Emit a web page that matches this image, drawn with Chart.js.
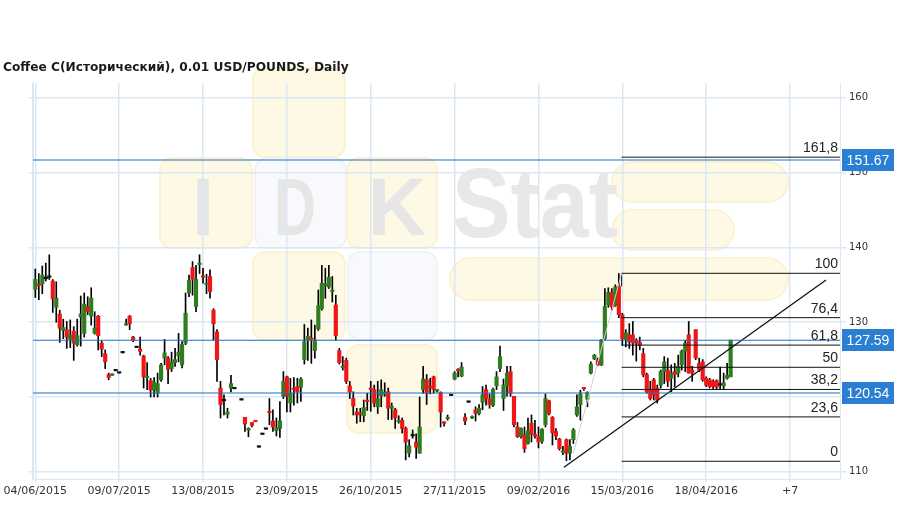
<!DOCTYPE html>
<html>
<head>
<meta charset="utf-8">
<script src="https://cdn.jsdelivr.net/npm/chart.js@4.4.1/dist/chart.umd.min.js"></script>
<style>
  html, body { margin: 0; padding: 0; background: #fff; }
</style>
</head>
<body>
<canvas id="chart" width="909" height="509"></canvas>
<script>
// daily OHLC, one entry per bar position (null = no trading data)
const opens = [
  134.4, 135.1, 135.1, 135.8, 136.0, 135.5, 132.0, 131.1, 128.9, 129.0,
  127.7, 128.8, 127.0, 130.7, 128.5, 132.1, 130.8, 128.5, 130.8, 127.2,
  125.8, 123.0, 122.9, 123.5, 123.2, 125.9, 129.6, 130.8, 128.0, 126.6,
  126.4, 125.5, 122.6, 122.2, 120.9, 120.5, 122.3, 125.2, 125.2, 123.8,
  124.6, 125.5, 124.3, 127.2, 133.9, 137.3, 132.1, 137.7, 136.1, 135.0,
  136.1, 131.6, 128.7, 121.2, 119.5, 117.7, 121.2, 121.1, null, 119.6,
  117.3, 115.6, 116.6, 116.8, 113.3, 115.0, 115.7, 118.0, 116.8, 115.5,
  115.8, 120.1, 122.7, 119.2, 121.1, 121.4, 121.3, 125.0, 127.6, 127.8,
  126.2, 129.1, 131.8, 134.9, 134.7, 134.1, 132.3, 126.2, 123.9, 124.9,
  121.5, 119.8, 118.0, 117.8, 117.5, 119.5, 121.1, 121.0, 118.7, 120.1,
  120.4, 120.7, 118.5, 118.3, 116.7, 116.9, 115.8, 112.5, 114.8, 114.0,
  112.5, 121.0, 122.3, 121.3, 122.7, 120.8, 120.6, 116.6, 117.1, 120.2,
  122.4, 123.6, 122.8, 117.3, 119.3, 117.2, 118.3, 117.8, 119.3, 121.0,
  119.7, 118.9, 121.5, 123.8, 119.8, 121.5, 123.4, 120.1, 116.0, 114.7,
  115.0, 113.8, 116.5, 114.9, 114.7, 114.1, 116.3, 119.5, 117.3, 115.4,
  114.4, 112.6, 114.3, 112.5, 114.3, 117.6, 119.0, 121.2, 119.7, 123.2,
  125.1, 125.0, 124.3, 127.8, 132.3, 134.0, 132.2, 134.8, 131.0, 127.7,
  128.3, 128.3, 127.6, 127.3, 125.8, 123.0, 120.9, 122.3, 121.2, 121.6,
  123.4, 123.6, 122.5, 123.4, 123.2, 124.3, 126.1, 128.3, 123.6, 129.0,
  124.5, 124.7, 122.5, 122.3, 122.1, 122.2, 121.6, 121.5, 122.5, 122.7
];
const highs = [
  137.1, 136.5, 137.5, 137.9, 139.0, 135.7, 135.4, 131.6, 130.4, 130.1,
  130.3, 129.4, 130.4, 133.5, 133.9, 133.4, 134.6, 131.4, 130.9, 127.5,
  126.3, 123.2, 123.1, 123.5, 123.2, 125.9, 130.4, 130.9, 128.1, 126.6,
  128.0, 125.6, 124.6, 122.5, 122.6, 123.2, 124.5, 127.7, 125.4, 126.0,
  126.5, 128.5, 127.4, 133.9, 136.3, 138.1, 137.6, 139.0, 137.2, 136.4,
  137.0, 131.8, 129.0, 122.1, 120.3, 118.5, 122.9, 121.1, null, 119.6,
  117.3, 115.9, 116.6, 116.8, 113.3, 115.0, 115.7, 119.8, 118.3, 117.2,
  119.4, 123.4, 122.8, 122.5, 122.6, 122.5, 122.6, 129.7, 129.2, 130.3,
  129.6, 134.3, 137.6, 137.2, 137.6, 136.1, 133.6, 126.5, 125.4, 125.2,
  122.1, 120.7, 118.5, 118.5, 119.6, 120.5, 122.1, 121.6, 122.1, 122.3,
  121.9, 121.2, 119.2, 118.5, 117.5, 117.2, 116.0, 114.3, 115.6, 115.1,
  120.0, 124.1, 123.0, 122.5, 122.8, 121.0, 120.7, 116.7, 117.6, 120.2,
  123.4, 123.8, 124.6, 117.8, 119.3, 117.5, 118.7, 119.0, 121.4, 121.6,
  120.4, 121.2, 123.4, 126.8, 122.4, 124.1, 124.1, 120.1, 116.6, 115.9,
  116.0, 117.2, 117.6, 116.9, 116.0, 115.8, 120.4, 119.6, 117.4, 115.8,
  114.5, 113.4, 114.4, 114.3, 115.8, 120.3, 120.9, 121.3, 120.7, 124.7,
  125.7, 125.2, 127.7, 134.5, 134.6, 134.5, 135.0, 136.5, 131.2, 129.0,
  129.8, 130.1, 127.8, 128.0, 126.5, 123.2, 122.1, 122.5, 121.6, 123.6,
  125.4, 125.2, 124.3, 124.5, 125.6, 126.3, 127.6, 130.1, 124.1, 129.0,
  125.2, 125.0, 122.7, 122.5, 122.3, 122.3, 124.0, 123.2, 124.5, 127.6
];
const lows = [
  133.3, 133.0, 133.8, 135.5, 135.7, 131.3, 130.0, 127.3, 127.8, 126.5,
  126.6, 124.9, 126.8, 126.8, 128.0, 131.0, 129.6, 128.4, 126.3, 125.4,
  123.8, 122.3, 122.9, 123.5, 123.2, 125.9, 129.6, 129.0, 127.4, 126.6,
  125.6, 121.2, 121.0, 120.0, 120.0, 120.0, 122.1, 124.3, 121.8, 123.4,
  124.1, 124.7, 123.9, 127.0, 133.4, 133.6, 131.4, 136.5, 135.2, 133.8,
  133.2, 127.6, 122.1, 117.2, 117.6, 117.2, 120.7, 121.1, null, 119.6,
  115.4, 114.7, 116.0, 116.7, 113.3, 115.0, 115.7, 116.3, 115.4, 114.8,
  114.6, 119.8, 118.0, 118.0, 118.9, 119.2, 119.4, 124.4, 124.9, 124.5,
  125.2, 128.9, 131.6, 133.2, 134.5, 132.7, 127.6, 124.4, 123.6, 121.8,
  119.8, 117.6, 116.5, 116.7, 116.7, 118.2, 118.1, 118.7, 117.8, 118.7,
  120.1, 117.0, 117.0, 115.8, 116.5, 115.2, 111.6, 112.0, 114.5, 111.8,
  112.5, 120.5, 119.0, 120.4, 120.5, 120.7, 116.0, 116.1, 116.9, 120.2,
  122.3, 122.7, 122.7, 116.3, 119.3, 117.1, 116.8, 117.6, 118.3, 118.9,
  118.5, 118.7, 121.0, 123.4, 118.2, 120.1, 120.1, 116.0, 114.6, 114.5,
  112.6, 113.7, 114.0, 114.5, 113.2, 113.8, 116.0, 117.6, 113.6, 114.3,
  112.9, 112.3, 111.5, 111.6, 113.8, 117.4, 116.9, 120.9, 118.7, 123.1,
  125.0, 124.2, 124.2, 127.6, 132.0, 131.6, 132.1, 130.6, 126.9, 126.7,
  126.5, 125.6, 124.8, 126.3, 122.7, 120.5, 119.6, 119.6, 119.2, 121.2,
  121.8, 121.4, 120.7, 121.4, 122.7, 123.6, 123.4, 123.2, 122.1, 125.0,
  123.4, 122.1, 121.4, 121.2, 121.0, 121.0, 121.0, 121.0, 122.4, 122.7
];
const closes = [
  135.7, 134.9, 136.3, 135.8, 136.0, 133.1, 133.2, 129.2, 129.3, 128.0,
  128.3, 127.2, 128.2, 131.1, 132.4, 131.4, 133.2, 129.2, 128.2, 126.4,
  124.7, 122.6, 123.1, 123.5, 123.2, 125.9, 129.8, 129.8, 127.6, 126.6,
  126.1, 122.7, 122.7, 120.9, 122.0, 121.8, 124.3, 125.9, 123.7, 124.7,
  125.0, 126.0, 127.0, 131.2, 135.6, 135.7, 135.7, 137.8, 136.0, 135.1,
  134.1, 129.8, 125.0, 119.0, 119.5, 118.0, 121.8, 121.1, null, 119.6,
  116.4, 115.8, 116.2, 116.7, 113.3, 115.0, 115.7, 117.9, 116.0, 115.9,
  116.8, 122.1, 120.1, 120.5, 121.0, 120.7, 122.4, 127.4, 128.1, 127.7,
  127.6, 132.2, 135.2, 135.0, 136.0, 134.2, 128.2, 124.6, 124.0, 122.1,
  120.7, 118.8, 117.6, 117.7, 118.6, 119.4, 121.0, 119.2, 119.8, 121.0,
  120.5, 118.5, 118.8, 117.2, 116.8, 115.8, 114.0, 113.5, 114.8, 113.3,
  116.0, 122.4, 120.5, 121.2, 121.0, 120.9, 118.0, 116.5, 117.2, 120.2,
  123.2, 123.5, 124.0, 116.8, 119.3, 117.3, 117.8, 118.5, 120.3, 119.8,
  119.0, 121.0, 122.7, 125.4, 121.6, 123.2, 120.5, 116.3, 114.7, 115.8,
  113.1, 115.5, 115.0, 114.8, 114.0, 115.7, 119.8, 117.8, 115.2, 114.8,
  113.1, 112.7, 112.5, 113.4, 115.6, 118.7, 120.4, 121.1, 120.6, 124.4,
  125.6, 124.3, 127.6, 132.1, 134.0, 132.0, 134.7, 131.0, 127.8, 128.6,
  127.4, 127.2, 127.2, 126.9, 123.0, 120.7, 119.8, 120.3, 119.6, 123.4,
  124.7, 122.1, 123.2, 123.0, 124.1, 126.1, 127.2, 123.2, 123.2, 125.2,
  123.6, 122.3, 121.6, 121.4, 121.4, 121.3, 121.6, 121.9, 122.9, 127.6
];

const xTickIdx = [0, 24, 48, 72, 96, 120, 144, 168, 192, 216];
const xTickLabels = ["04/06/2015", "09/07/2015", "13/08/2015", "23/09/2015", "26/10/2015",
  "27/11/2015", "09/02/2016", "15/03/2016", "18/04/2016", "+7"];
const yTicks = [110, 120, 130, 140, 150, 160];

// marked price levels (blue lines with badges)
const levelValues = [151.67, 127.59, 120.54];

// fibonacci retracement from the march low to the march high
const fibLow = 111.42;
const fibHigh = 136.53;
const fibRatios = [0, 0.236, 0.382, 0.5, 0.618, 0.764, 1, 1.618];
const fibLabels = ["0", "23,6", "38,2", "50", "61,8", "76,4", "100", "161,8"];
const fibStart = 167.8;
const fibAnchorTop = 134.8;

// support trend line and the thin swing line
const trendLine = [{ x: 151.3, y: 110.63 }, { x: 226.3, y: 135.63 }];
const swingLine = [{ x: 154.0, y: 112.5 }, { x: 167.8, y: 136.53 }];

const xMin = -0.66;
const xMax = 230.3;
const yMin = 109.05;
const yMax = 161.95;

const gridColor = "#dbe7f3";
const upColor = "#2f7d1f";
const downColor = "#f01616";

const bars = opens.map((o, i) => i).filter((i) => opens[i] !== null);
const wickData = bars.map((i) => ({ x: i, y: [lows[i], highs[i]] }));
const bodyData = bars.map((i) => ({ x: i, y: [opens[i], closes[i]] }));
const bodyColors = bars.map((i) =>
  closes[i] > opens[i] ? upColor : closes[i] < opens[i] ? downColor : "#111"
);

const fibValue = (r) => fibLow + r * (fibHigh - fibLow);

const lineSet = (data, color, width) => ({
  type: "line",
  data: data,
  borderColor: color,
  borderWidth: width,
  pointRadius: 0,
  fill: false,
  tension: 0,
  order: 1,
});

const datasets = [
  {
    type: "bar",
    data: wickData,
    backgroundColor: "#000",
    barThickness: 1,
    grouped: false,
    order: 3,
  },
  {
    type: "bar",
    data: bodyData,
    backgroundColor: bodyColors,
    barThickness: 3.5,
    minBarLength: 1.5,
    grouped: false,
    order: 2,
  },
  lineSet(swingLine, "#cfcfcf", 1),
];

fibRatios.forEach((r) => {
  const v = fibValue(r);
  const pts = [{ x: fibStart, y: v }, { x: xMax, y: v }];
  if (r === 1) pts.unshift({ x: fibStart, y: fibAnchorTop });
  datasets.push(lineSet(pts, "#111", 1));
});

levelValues.forEach((v) => {
  datasets.push(lineSet([{ x: xMin, y: v }, { x: xMax, y: v }], "#1f6fc6", 1.2));
});

datasets.push(lineSet(trendLine, "#111", 1.3));

// faint logo behind the plot
const watermark = {
  id: "watermark",
  beforeDraw(chart) {
    const ctx = chart.ctx;
    ctx.save();
    const yellow = ["#fdf9e4", "#fbf2d2"];
    const pale = ["#f8f9fc", "#eff2f7"];
    const boxes = [
      [253, 68, 92, 89, yellow],
      [160, 158, 92, 90, yellow],
      [255, 158, 91, 90, pale],
      [347, 158, 90, 90, yellow],
      [253, 252, 92, 88, yellow],
      [348, 252, 89, 88, pale],
      [347, 345, 90, 88, yellow],
    ];
    ctx.lineWidth = 2;
    boxes.forEach(([x, y, w, h, c]) => {
      ctx.beginPath();
      ctx.roundRect(x, y, w, h, 12);
      ctx.fillStyle = c[0];
      ctx.fill();
      ctx.strokeStyle = c[1];
      ctx.stroke();
    });
    const pills = [
      [612, 162, 176, 40],
      [612, 210, 122, 40],
      [450, 258, 338, 42],
    ];
    pills.forEach(([x, y, w, h]) => {
      ctx.beginPath();
      ctx.roundRect(x, y, w, h, h / 2);
      ctx.fillStyle = yellow[0];
      ctx.fill();
      ctx.strokeStyle = yellow[1];
      ctx.stroke();
    });
    ctx.fillStyle = "#e6e6e6";
    ctx.textBaseline = "alphabetic";
    ctx.textAlign = "center";
    ctx.font = "bold 81px 'Liberation Sans'";
    ctx.fillText("I", 203, 235, 22);
    ctx.fillText("D", 295, 235, 42);
    ctx.fillText("K", 397, 235, 62);
    ctx.textAlign = "left";
    ctx.fillStyle = "#e8e8e8";
    ctx.font = "bold 98px 'Liberation Sans'";
    ctx.fillText("Stat", 452, 237, 166);
    ctx.restore();
  },
};

const levelMarks = {
  id: "levelMarks",
  afterDraw(chart) {
    const ctx = chart.ctx;
    const area = chart.chartArea;
    const ys = chart.scales.y;
    ctx.save();
    ctx.font = "14px 'Liberation Sans'";
    ctx.fillStyle = "#222";
    ctx.textAlign = "right";
    ctx.textBaseline = "bottom";
    fibRatios.forEach((r, k) => {
      const y = ys.getPixelForValue(fibValue(r));
      ctx.fillText(fibLabels[k], area.right - 2, y - 2);
    });
    ctx.textAlign = "center";
    ctx.textBaseline = "middle";
    levelValues.forEach((v) => {
      const y = Math.round(ys.getPixelForValue(v));
      ctx.fillStyle = "#2a7fd3";
      ctx.fillRect(area.right + 2, y - 11, 52, 22);
      ctx.fillStyle = "#fff";
      ctx.fillText(v.toFixed(2), area.right + 28, y + 1);
    });
    ctx.restore();
  },
};

new Chart(document.getElementById("chart"), {
  type: "bar",
  data: { datasets: datasets },
  options: {
    responsive: false,
    animation: false,
    layout: { padding: { left: 3, right: 0, top: 0, bottom: 0 } },
    plugins: {
      legend: { display: false },
      tooltip: { enabled: false },
      title: {
        display: true,
        text: "Coffee C(Исторический), 0.01 USD/POUNDS, Daily",
        align: "start",
        color: "#1a1a1a",
        font: { family: "DejaVu Sans", size: 12.2, weight: "bold" },
        padding: { top: 61, bottom: 7.4 },
      },
    },
    scales: {
      x: {
        type: "linear",
        min: xMin,
        max: xMax,
        offset: false,
        afterBuildTicks: (axis) => {
          axis.ticks = xTickIdx.map((v) => ({ value: v }));
        },
        afterFit: (axis) => {
          axis.height = 30;
        },
        grid: { color: gridColor, lineWidth: 1.5, tickLength: 3, offset: false },
        border: { color: gridColor },
        ticks: {
          callback: (v, i) => xTickLabels[i],
          color: "#333",
          font: { family: "DejaVu Sans", size: 11 },
          padding: 3,
          maxRotation: 0,
          autoSkip: false,
        },
      },
      y: {
        position: "right",
        min: yMin,
        max: yMax,
        beginAtZero: false,
        afterBuildTicks: (axis) => {
          axis.ticks = yTicks.map((v) => ({ value: v }));
        },
        afterFit: (axis) => {
          axis.width = 69;
        },
        grid: { color: gridColor, lineWidth: 1.5, tickLength: 6 },
        border: { color: gridColor },
        ticks: {
          color: "#333",
          font: { family: "DejaVu Sans", size: 10 },
          padding: 3,
        },
      },
      yl: {
        position: "left",
        min: yMin,
        max: yMax,
        beginAtZero: false,
        afterBuildTicks: (axis) => {
          axis.ticks = yTicks.map((v) => ({ value: v }));
        },
        afterFit: (axis) => {
          axis.width = 30;
        },
        grid: { color: gridColor, lineWidth: 1.5, tickLength: 4, drawOnChartArea: false },
        border: { color: gridColor, width: 2 },
        ticks: { display: false },
      },
    },
  },
  plugins: [watermark, levelMarks],
});
</script>
</body>
</html>
